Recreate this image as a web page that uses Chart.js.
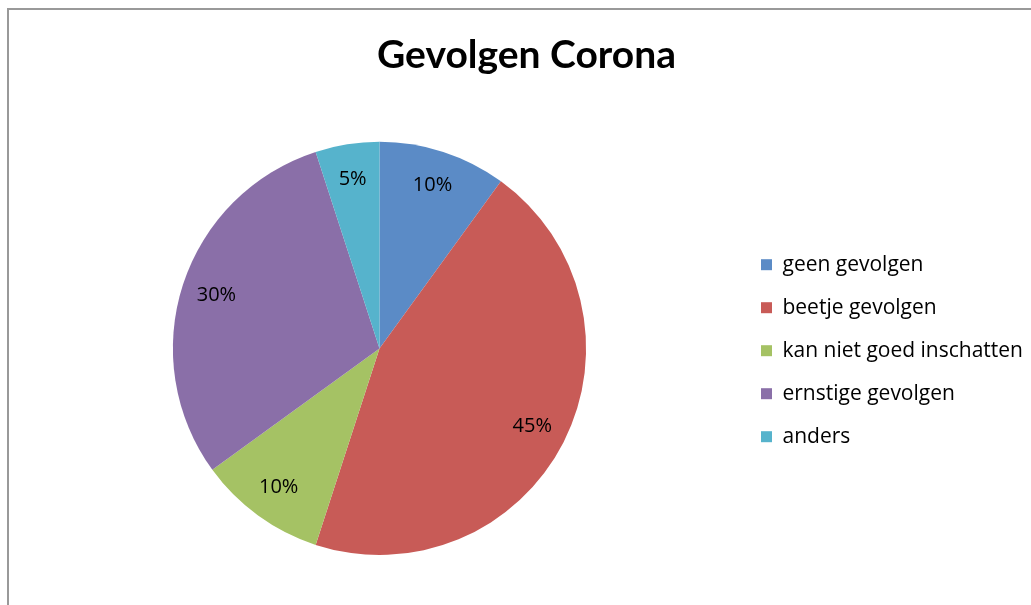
<!DOCTYPE html>
<html>
<head>
<meta charset="utf-8">
<script src="https://cdn.jsdelivr.net/npm/chart.js@4.4.1/dist/chart.umd.min.js"></script>
<style>
  html, body { margin: 0; padding: 0; background: #fff; }
  #wrap { position: relative; width: 1031px; height: 605px; overflow: hidden; }
  #frame { position: absolute; left: 7px; top: 8px; right: -10px; bottom: -10px;
           border-left: 2px solid #999; border-top: 2px solid #999; }
  canvas { position: absolute; left: 0; top: 0; }
</style>
</head>
<body>
<div id="wrap">
  <div id="frame"></div>
  <canvas id="pie" width="1031" height="605"></canvas>
</div>
<script>
// categorieën en waarden (percentages)
const categorieen = ['geen gevolgen', 'beetje gevolgen', 'kan niet goed inschatten', 'ernstige gevolgen', 'anders'];
const waarden = [10, 45, 10, 30, 5];
const labelsPct = ['10%', '45%', '10%', '30%', '5%'];
const kleuren = ['#5b8bc6', '#c85b57', '#a5c264', '#8a6fa8', '#56b3cc'];

// plugin om de percentages in de taartpunten te tekenen
const pctLabels = {
    id: 'pctLabels',
    afterDatasetsDraw(chart) {
        const ctx = chart.ctx;
        const meta = chart.getDatasetMeta(0);
        ctx.save();
        ctx.font = '20px "Open Sans"';
        ctx.fillStyle = '#000';
        ctx.textAlign = 'center';
        ctx.textBaseline = 'middle';
        meta.data.forEach((arc, i) => {
            const mid = (arc.startAngle + arc.endAngle) / 2;
            const r = arc.outerRadius * 0.83;
            ctx.fillText(labelsPct[i], arc.x + Math.cos(mid) * r, arc.y + Math.sin(mid) * r);
        });
        ctx.restore();
    }
};

new Chart(document.getElementById('pie').getContext('2d'), {
    type: 'pie',
    data: {
        labels: categorieen,
        datasets: [{
            data: waarden,
            backgroundColor: kleuren,
            borderWidth: 0
        }]
    },
    options: {
        responsive: false,
        animation: false,
        layout: { padding: { left: 20, right: -2, top: 0, bottom: 50 } },
        plugins: {
            title: {
                display: true,
                text: 'Gevolgen Corona',
                color: '#000',
                font: { family: 'Lato', size: 39, weight: 'bold' },
                padding: { top: 32, bottom: 63 }
            },
            legend: {
                position: 'right',
                align: 'center',
                title: { display: true, text: '', padding: { top: 132, bottom: 0 } },
                labels: {
                    color: '#000',
                    boxWidth: 11,
                    boxHeight: 11,
                    padding: 22,
                    font: { family: 'Open Sans', size: 21 }
                }
            },
            tooltip: { enabled: false }
        }
    },
    plugins: [pctLabels]
});
</script>
</body>
</html>
